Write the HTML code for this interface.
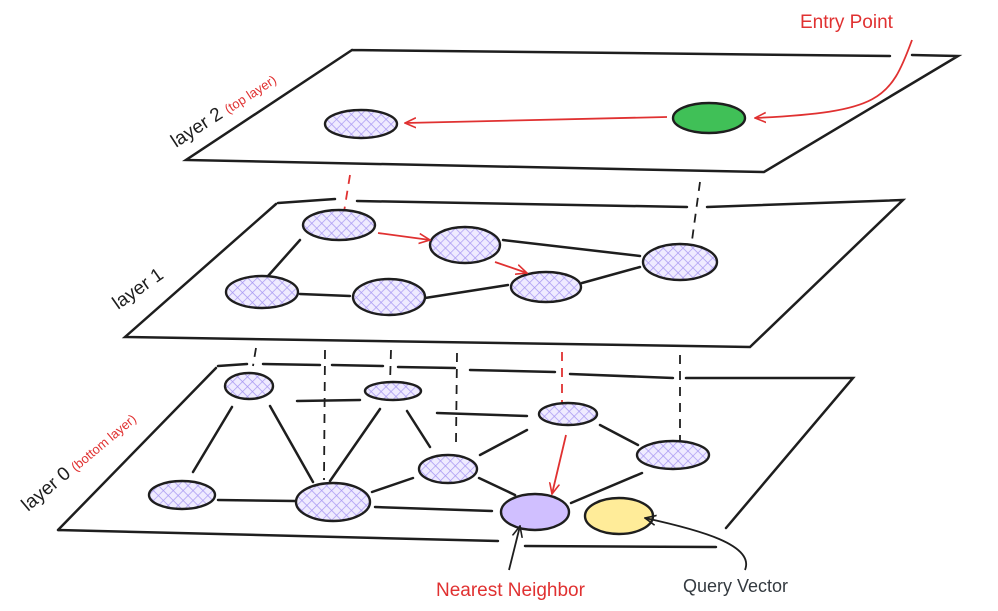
<!DOCTYPE html>
<html><head><meta charset="utf-8"><style>
html,body{margin:0;padding:0;background:#fff;}
svg{display:block}
text{font-family:"Liberation Sans",sans-serif;}
</style></head><body>
<svg width="998" height="611" viewBox="0 0 998 611" xmlns="http://www.w3.org/2000/svg">
<defs>
<pattern id="h" width="7" height="7" patternUnits="userSpaceOnUse" patternTransform="rotate(45)">
<rect width="7" height="7" fill="#efebff"/>
<path d="M0 0H7M0 0V7" stroke="#a898f2" stroke-width="1.4"/>
</pattern>
<marker id="ar" viewBox="0 0 12 12" refX="11" refY="6" markerWidth="12" markerHeight="12" orient="auto" markerUnits="userSpaceOnUse"><path d="M0 1L11 6L0 11" fill="none" stroke="#e03131" stroke-width="1.6"/></marker>
<marker id="ak" viewBox="0 0 12 12" refX="11" refY="6" markerWidth="12" markerHeight="12" orient="auto" markerUnits="userSpaceOnUse"><path d="M0 1L11 6L0 11" fill="none" stroke="#1e1e1e" stroke-width="1.6"/></marker>
</defs>
<g stroke="#1e1e1e" stroke-width="2.5" fill="none" stroke-linecap="round">
<path d="M352 50L890 56M912 55L958 56L764 172L186 160L352 50"/>
<path d="M278 203L335 199M357 201L687 207M707 207L903 200L750 347L125 337L276 204"/>
<path d="M218 366L247 364M263 364L320 365M332 365L383 366M398 367L455 368M470 370L555 372M570 374L673 378M686 378L853 378L726 528M58 530L498 541M525 546L716 547M58 530L216 368"/>
<path d="M300 240L268 276M300 294L350 296M425 298L508 285M503 240L640 256M582 283L640 267"/>
<path d="M232 407L193 472M270 406L313 482M218 500L295 501M297 401L360 400M380 409L330 481M407 411L430 447M437 413L527 416M480 455L527 430M479 478L515 495M600 425L638 445M571 503L642 473M375 507L492 511M372 492L413 478"/>
</g>
<g stroke="#1e1e1e" stroke-width="1.8" fill="none" stroke-dasharray="9 7">
<path d="M700 182L690 255M256 348L253 366M325 350L324 480M391 350L390 383M457 353L456 442M680 355L680 457"/>
</g>
<g stroke="#e03131" stroke-width="1.8" fill="none" stroke-dasharray="9 7">
<path d="M350 175L343 218M562 352L562 410"/>
</g>
<g stroke="#1e1e1e" stroke-width="2.4" fill="url(#h)">
<ellipse cx="361" cy="124" rx="36" ry="14"/>
<ellipse cx="339" cy="225" rx="36" ry="15"/>
<ellipse cx="465" cy="245" rx="35" ry="18"/>
<ellipse cx="680" cy="262" rx="37" ry="18"/>
<ellipse cx="262" cy="292" rx="36" ry="16"/>
<ellipse cx="389" cy="297" rx="36" ry="18"/>
<ellipse cx="546" cy="287" rx="35" ry="15"/>
<ellipse cx="249" cy="386" rx="24" ry="13"/>
<ellipse cx="393" cy="391" rx="28" ry="9"/>
<ellipse cx="568" cy="414" rx="29" ry="11"/>
<ellipse cx="673" cy="455" rx="36" ry="14"/>
<ellipse cx="448" cy="469" rx="29" ry="14"/>
<ellipse cx="182" cy="495" rx="33" ry="14"/>
<ellipse cx="333" cy="502" rx="37" ry="19"/>
</g>
<ellipse cx="709" cy="118" rx="36" ry="15" fill="#40c057" stroke="#1e1e1e" stroke-width="2.4"/>
<ellipse cx="535" cy="512" rx="34" ry="18" fill="#d0bfff" stroke="#1e1e1e" stroke-width="2.4"/>
<ellipse cx="619" cy="516" rx="34" ry="18" fill="#ffec99" stroke="#1e1e1e" stroke-width="2.4"/>
<g stroke="#e03131" stroke-width="1.8" fill="none">
<path d="M667 117L405 123" marker-end="url(#ar)"/>
<path d="M912 40C890 100 880 112 755 118" marker-end="url(#ar)"/>
<path d="M378 233L430 240" marker-end="url(#ar)"/>
<path d="M495 262L527 273" marker-end="url(#ar)"/>
<path d="M566 435L552 494" marker-end="url(#ar)"/>
</g>
<g stroke="#1e1e1e" stroke-width="1.8" fill="none">
<path d="M509 570L520 526" marker-end="url(#ak)"/>
<path d="M745 570C755 545 700 530 645 518" marker-end="url(#ak)"/>
</g>
<text x="800" y="28" font-size="19" fill="#e03131">Entry Point</text>
<text x="436" y="596" font-size="19" fill="#e03131">Nearest Neighbor</text>
<text x="683" y="592" font-size="18" fill="#343a40">Query Vector</text>
<g transform="translate(176,148) rotate(-33)"><text font-size="19" fill="#1e1e1e">layer 2 <tspan font-size="13" fill="#e03131">(top layer)</tspan></text></g>
<g transform="translate(118,310) rotate(-35)"><text font-size="19" fill="#1e1e1e">layer 1</text></g>
<g transform="translate(28,512) rotate(-40)"><text font-size="19" fill="#1e1e1e">layer 0 <tspan font-size="13" fill="#e03131">(bottom layer)</tspan></text></g>
</svg>
</body></html>
